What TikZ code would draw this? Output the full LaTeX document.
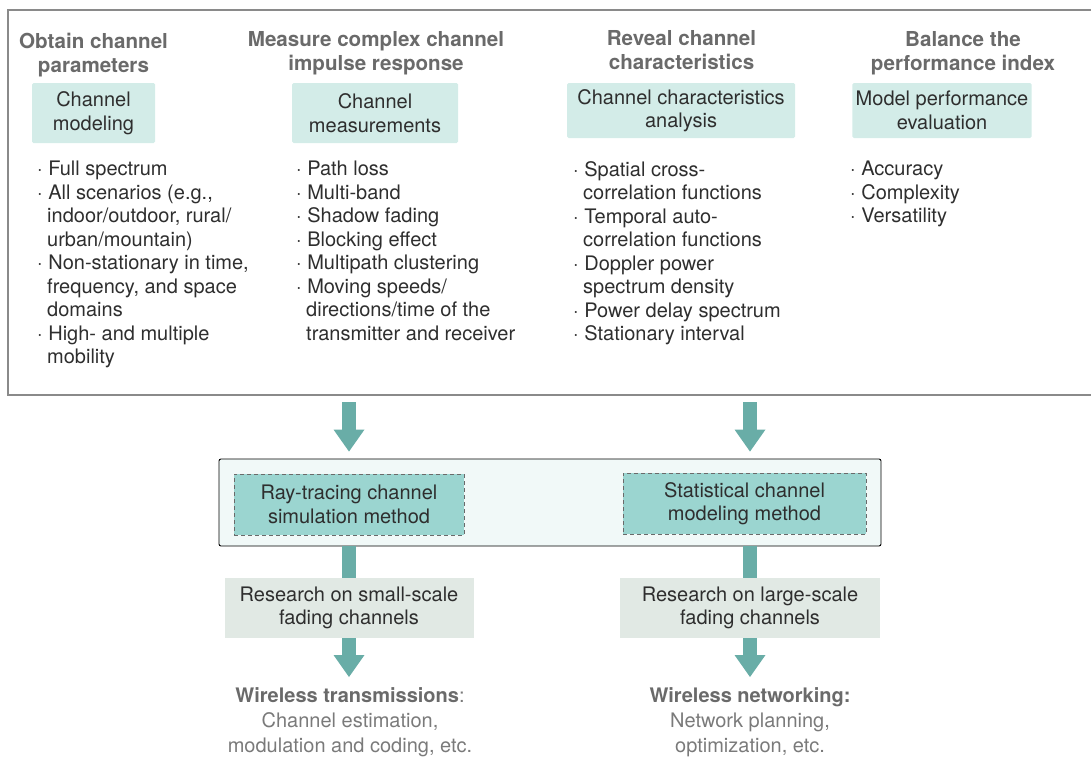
\documentclass[tikz,border=0pt]{standalone}
\usepackage{fontspec}
\setmainfont{TeX Gyre Heros}
\usetikzlibrary{arrows.meta, positioning, calc}

\definecolor{textdark}{HTML}{2E2E2E}
\definecolor{headgray}{HTML}{6A6A6A}
\definecolor{usegray}{HTML}{7A7A7A}
\definecolor{framegray}{HTML}{8A8A8A}
\definecolor{paleteal}{HTML}{D3ECE8}
\definecolor{midteal}{HTML}{9BD5D0}
\definecolor{mintbg}{HTML}{F1F9F8}
\definecolor{palegray}{HTML}{E1E9E4}
\definecolor{arrowteal}{HTML}{69ADA7}
\definecolor{dashgray}{HTML}{6A6A6A}

\newcommand{\wrapind}{\hspace*{10pt}}

\begin{document}
\begin{tikzpicture}[x=1pt, y=-1pt,
    every node/.style={font=\fontsize{20}{23.5}\selectfont, text=textdark},
    head/.style={font=\fontsize{20.6}{24}\selectfont\bfseries, text=headgray, align=center},
    task/.style={fill=paleteal, rounded corners=1.5pt, align=center},
    items/.style={anchor=north west, align=left, inner sep=0pt},
    method/.style={draw=dashgray, dash pattern=on 4pt off 3pt, line width=1pt, fill=midteal,
        align=center, minimum height=61},
    research/.style={fill=palegray, align=center, minimum height=60},
    usage/.style={font=\fontsize{20}{25}\selectfont, text=usegray, align=center, anchor=north, inner sep=0pt},
    shaft/.style={draw=arrowteal, line width=14pt},
    bigarrow/.style={shaft, -{Triangle[width=31pt, length=22pt, line width=0pt]}}
  ]
  \useasboundingbox (0,0) rectangle (1091,760);

  \node[draw=framegray, line width=2pt, anchor=north west, inner sep=0pt,
    minimum width=1090, minimum height=385] (frame) at (7,9) {};

  \node[head] (h1) at (93.5,55) {Obtain channel\\parameters};
  \node[head] (h2) at (376,53) {Measure complex channel\\impulse response};
  \node[head] (h3) at (681.5,50) {Reveal channel\\characteristics};
  \node[head] (h4) at (963,53) {Balance the\\performance index};

  \node[task, minimum width=123, minimum height=60] (model) at (93.5,113) {Channel\\modeling};
  \node[task, minimum width=166, minimum height=60] (meas) at (375,113) {Channel\\measurements};
  \node[task, minimum width=228, minimum height=55] (chara) at (681,110.5) {Channel characteristics\\analysis};
  \node[task, minimum width=176, minimum height=55] (perf) at (942,110.5) {Model performance\\evaluation};

  \node[items] (l1) at (37,161) {· Full spectrum\\· All scenarios (e.g.,\\\wrapind indoor/outdoor, rural/\\\wrapind urban/mountain)\\%
    · Non-stationary in time,\\\wrapind frequency, and space\\\wrapind domains\\· High- and multiple\\\wrapind mobility};
  \node[items] (l2) at (296,161) {· Path loss\\· Multi-band\\· Shadow fading\\· Blocking effect\\· Multipath clustering\\%
    · Moving speeds/\\\wrapind directions/time of the\\\wrapind transmitter and receiver};
  \node[items] (l3) at (573,161) {· Spatial cross-\\\wrapind correlation functions\\· Temporal auto-\\\wrapind correlation functions\\%
    · Doppler power\\\wrapind spectrum density\\· Power delay spectrum\\· Stationary interval};
  \node[items] (l4) at (850,161) {· Accuracy\\· Complexity\\· Versatility};

  \node[draw=black, fill=mintbg, rounded corners=2pt, line width=0.9pt,
    minimum width=662, minimum height=87] (methods) at (550,502.5) {};
  \node[method, minimum width=230] (ray) at (349,504.5) {Ray-tracing channel\\simulation method};
  \node[method, minimum width=243] (stat) at (744.5,503.5) {Statistical channel\\modeling method};

  \node[research, minimum width=249] (sres) at (349,608) {Research on small-scale\\fading channels};
  \node[research, minimum width=260] (lres) at (750,608) {Research on large-scale\\fading channels};

  \node[usage] (suse) at (350,687) {\textcolor{headgray}{\bfseries Wireless transmissions}:\\Channel estimation,\\modulation and coding, etc.};
  \node[usage] (luse) at (750,687) {\textcolor{headgray}{\bfseries Wireless networking:}\\Network planning,\\optimization, etc.};

  \draw[bigarrow] ([yshift=-6pt]frame.south -| sres.north) -- ([yshift=7pt]methods.north -| sres.north);
  \draw[bigarrow] ([yshift=-6pt]frame.south -| lres.north) -- ([yshift=7pt]methods.north -| lres.north);
  \draw[shaft] (methods.south -| sres.north) -- (sres.north);
  \draw[shaft] (methods.south -| lres.north) -- (lres.north);
  \draw[bigarrow] (sres.south) -- ([yshift=10pt]suse.north -| sres.south);
  \draw[bigarrow] (lres.south) -- ([yshift=10pt]luse.north -| lres.south);
\end{tikzpicture}
\end{document}
